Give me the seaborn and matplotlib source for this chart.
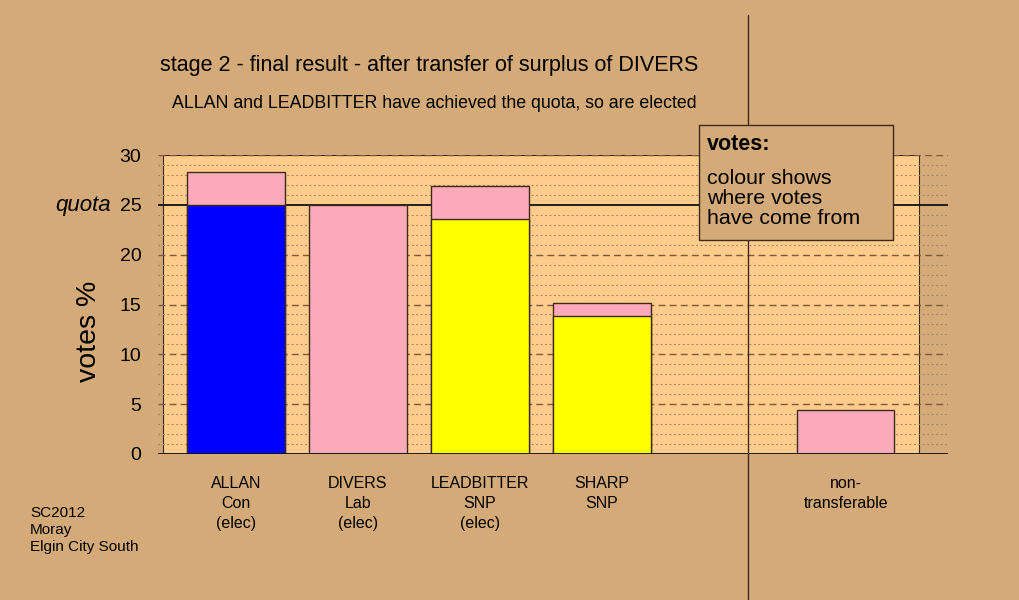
import matplotlib
matplotlib.use('Agg')
import matplotlib.pyplot as plt
import matplotlib.patches as mpatches
import matplotlib.lines as mlines
import numpy as np
import pandas as pd
import seaborn as sns

# data
candidates = ['ALLAN\nCon\n(elec)', 'DIVERS\nLab\n(elec)', 'LEADBITTER\nSNP\n(elec)',
              'SHARP\nSNP', ' ', 'non-\ntransferable']
totals = [28.3, 25.0, 26.9, 15.2, 0.0, 4.4]        # total votes % after transfer
own_votes = [25.0, 0.0, 23.6, 13.8, 0.0, 0.0]       # votes before the transfer (own party colour)
own_colours = ['#0000FF', '#FFAABB', '#FFFF00', '#FFFF00', '#FFAABB', '#FFAABB']
transfer_colour = '#FFAABB'
quota = 25
yticks = [0, 5, 10, 15, 20, 25, 30]

bg = '#D4AA78'
plot_bg = '#FFCC8C'
edge = '#3a2a1a'

sns.set_style('white')
plt.rcParams['font.family'] = ['Liberation Sans', 'DejaVu Sans']
plt.rcParams['text.color'] = 'black'
plt.rcParams['xtick.color'] = 'black'
plt.rcParams['ytick.color'] = 'black'
plt.rcParams['axes.labelcolor'] = 'black'

fig = plt.figure(figsize=(10.2, 6), dpi=100, facecolor=bg)
# axes spans px 158..948 horizontally, 155..454 vertically
ax = fig.add_axes([158 / 1020, 1 - 454 / 600, (948 - 158) / 1020, (454 - 155) / 600])
ax.set_facecolor('none')

df = pd.DataFrame({'cand': candidates, 'total': totals, 'own': own_votes, 'col': own_colours})

# light plot area
ax.add_patch(mpatches.Rectangle((-0.6, 0), 6.2, 30, facecolor=plot_bg, edgecolor=edge,
                                lw=0.8, zorder=0))

# grid
for v in range(1, 31):
    if v == quota:
        ax.axhline(v, color='#111111', lw=1.3, zorder=1)
    elif v % 5 == 0:
        ax.axhline(v, color='#7a5a3a', lw=1.0, ls=(0, (5, 3)), zorder=1)
    else:
        ax.axhline(v, color='#9a8060', lw=0.8, ls=(0, (1.5, 2.5)), zorder=1)

# transferred votes (pink) drawn as full height, own votes on top
sns.barplot(data=df, x='cand', y='total', order=candidates, color=transfer_colour,
            width=0.8, edgecolor=edge, linewidth=1.0, saturation=1, ax=ax, zorder=2)
sns.barplot(data=df, x='cand', y='own', order=candidates, hue='cand', palette=own_colours,
            hue_order=candidates, legend=False, width=0.8, edgecolor=edge, linewidth=1.0,
            saturation=1, ax=ax, zorder=3)

ax.axhline(0, color='#111111', lw=1.3, zorder=4)

ax.set_xlim(-0.64, 5.84)
ax.set_ylim(0, 30)
for s in ax.spines.values():
    s.set_visible(False)

ax.set_yticks(yticks)
ax.set_yticklabels([str(t) for t in yticks], fontsize=14)
ax.tick_params(axis='y', length=0, pad=12)
ax.tick_params(axis='x', length=0, pad=16, labelsize=11.5)
ax.set_xlabel('')
ax.set_ylabel('')
for lbl in ax.get_xticklabels():
    lbl.set_linespacing(1.42)

fig.text(89 / 1020, 1 - 331 / 600, 'votes %', fontsize=20.5, rotation=90,
         ha='center', va='center')
fig.text(111 / 1020, 1 - 205 / 600, 'quota', fontsize=16, style='italic',
         ha='right', va='center')

# titles
fig.text(160 / 1020, 1 - 65 / 600, 'stage 2 - final result - after transfer of surplus of DIVERS',
         fontsize=15.5, ha='left', va='center')
fig.text(172 / 1020, 1 - 103 / 600, 'ALLAN and LEADBITTER have achieved the quota, so are elected',
         fontsize=12.8, ha='left', va='center')

# vertical separator
fig.add_artist(mlines.Line2D([748 / 1020, 748 / 1020], [0, 1 - 15 / 600], color='#3a2a1a', lw=1.0))

# note box
fig.add_artist(mpatches.Rectangle((699 / 1020, 1 - 240 / 600), 194 / 1020, 115 / 600,
                                  transform=fig.transFigure, facecolor=bg, edgecolor=edge,
                                  lw=1.0, zorder=5))
fig.text(707 / 1020, 1 - 145 / 600, 'votes:', fontsize=15.5, fontweight='bold',
         ha='left', va='center', zorder=6)
for i, line in enumerate(['colour shows', 'where votes', 'have come from']):
    fig.text(707 / 1020, 1 - (178 + 20 * i) / 600, line, fontsize=15.4,
             ha='left', va='center', zorder=6)

fig.text(30 / 1020, 1 - 506 / 600, 'SC2012\nMoray\nElgin City South', fontsize=11,
         ha='left', va='top', linespacing=1.25)

fig.savefig('out.png', dpi=100, facecolor=bg)
